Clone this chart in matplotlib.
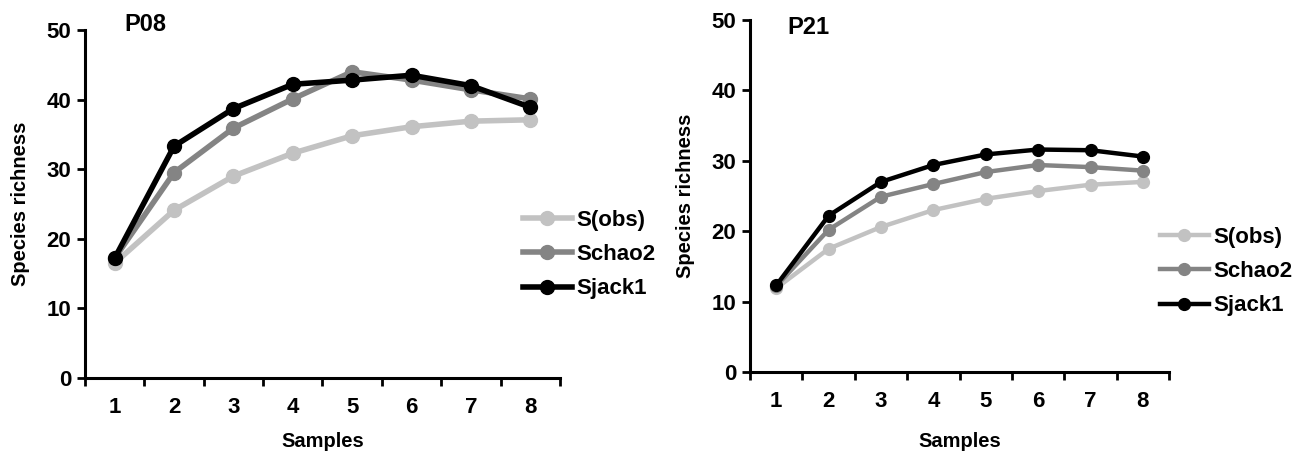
import numpy as np
import matplotlib
matplotlib.use("Agg")
import matplotlib.pyplot as plt
from matplotlib.ticker import FixedLocator, NullFormatter

plt.rcParams['font.family'] = ['Liberation Sans', 'DejaVu Sans']
plt.rcParams['font.weight'] = 'bold'

samples = [1, 2, 3, 4, 5, 6, 7, 8]
series_names = ["S(obs)", "Schao2", "Sjack1"]

# P08
p08_sobs = [16.5, 24.1, 29.0, 32.3, 34.8, 36.1, 36.9, 37.1]
p08_schao2 = [17.2, 29.5, 35.9, 40.1, 44.0, 42.8, 41.4, 40.1]
p08_sjack1 = [17.2, 33.3, 38.7, 42.2, 42.8, 43.5, 42.0, 38.9]

# P21
p21_sobs = [11.9, 17.5, 20.6, 23.0, 24.6, 25.7, 26.6, 27.0]
p21_schao2 = [12.2, 20.2, 24.9, 26.7, 28.4, 29.4, 29.1, 28.6]
p21_sjack1 = [12.3, 22.2, 27.0, 29.4, 30.9, 31.6, 31.5, 30.6]

colors = ["#c2c2c2", "#848484", "#000000"]

fig = plt.figure(figsize=(12.99, 4.51), dpi=100)
ax1 = fig.add_axes([0.0654, 0.1619, 0.3657, 0.7716])
ax2 = fig.add_axes([0.5774, 0.1752, 0.3226, 0.7805])


def draw(ax, data, title, lw, ms, legend_pos, title_pos, xpad):
    for vals, name, c in zip(data, series_names, colors):
        ax.plot(samples, vals, color=c, lw=lw, marker='o', ms=ms, label=name,
                solid_joinstyle='round')
    ax.set_xlim(0.5, 8.5)
    ax.set_ylim(0, 50)
    ax.set_yticks([0, 10, 20, 30, 40, 50])
    ax.xaxis.set_major_locator(FixedLocator(np.arange(0.5, 9, 1)))
    ax.xaxis.set_major_formatter(NullFormatter())
    ax.set_xticks(samples, minor=True)
    ax.set_xticklabels([str(s) for s in samples], minor=True)
    ax.tick_params(axis='x', which='major', direction='out', length=6, width=2)
    ax.tick_params(axis='x', which='minor', length=0, pad=14, labelsize=16)
    ax.tick_params(axis='y', direction='out', length=6, width=2, labelsize=16, pad=4)
    for s in ['top', 'right']:
        ax.spines[s].set_visible(False)
    for s in ['left', 'bottom']:
        ax.spines[s].set_linewidth(2.2)
    ax.set_xlabel("Samples", fontsize=14.5, fontweight='bold', labelpad=xpad)
    ax.set_ylabel("Species richness", fontsize=14.5, fontweight='bold', labelpad=12)
    ax.text(title_pos[0], title_pos[1], title, transform=ax.transAxes,
            fontsize=17, fontweight='bold', va='center')
    ax.legend(loc='center left', bbox_to_anchor=legend_pos, frameon=False,
              fontsize=16, handlelength=2.2, handletextpad=0.2, labelspacing=0.6,
              borderaxespad=0, borderpad=0)


draw(ax1, [p08_sobs, p08_schao2, p08_sjack1], "P08", 4, 10, (0.922, 0.355), (0.084, 1.017), 10)
draw(ax2, [p21_sobs, p21_schao2, p21_sjack1], "P21", 3.2, 8.5, (0.978, 0.285), (0.088, 0.98), 14)

fig.savefig("out.png", dpi=100)
